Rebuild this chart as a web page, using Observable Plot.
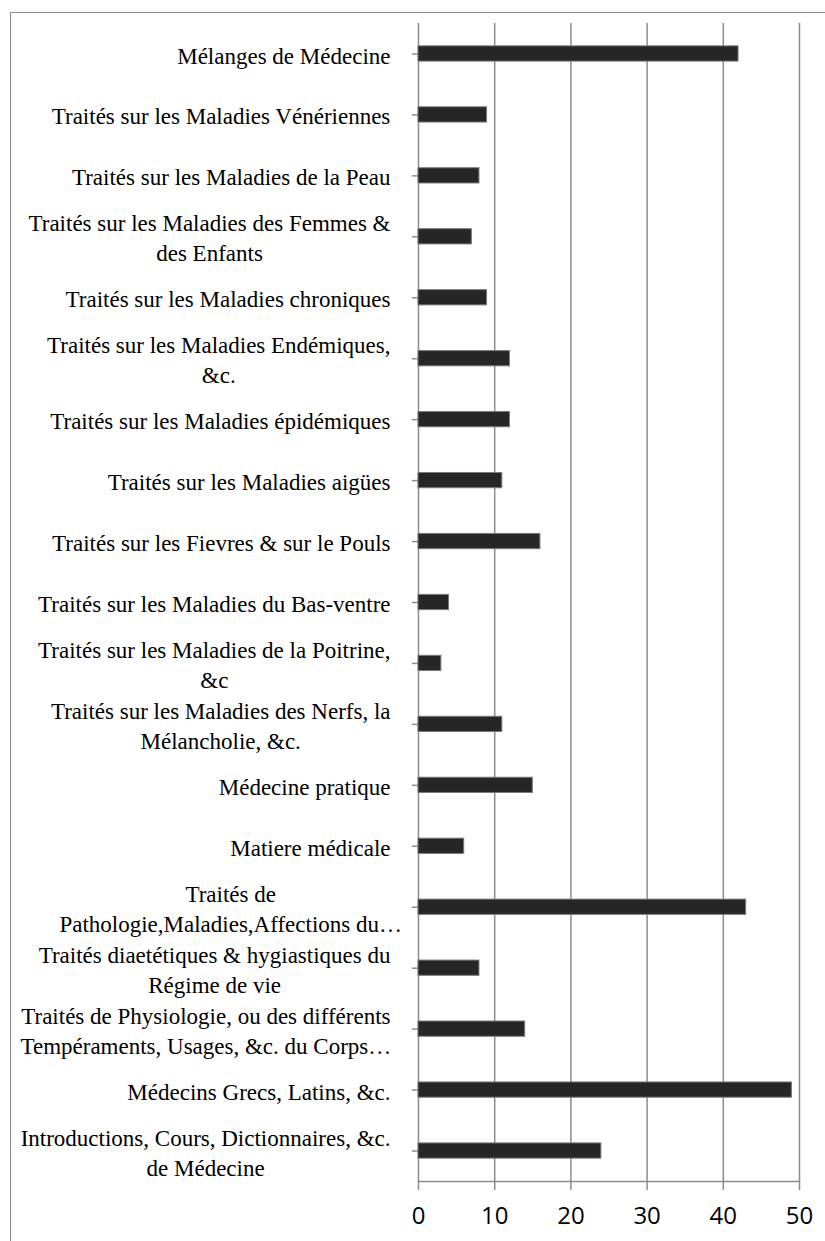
<!DOCTYPE html>
<html><head><meta charset="utf-8">
<script src="https://cdn.jsdelivr.net/npm/d3@7"></script>
<script src="https://cdn.jsdelivr.net/npm/@observablehq/plot@0.6"></script>
<style>
html,body{margin:0;padding:0;background:#fff;overflow:hidden}
#wrap{position:relative;width:825px;height:1241px;overflow:hidden;background:#fff}
#frame{position:absolute;left:10px;top:12px;width:900px;height:1300px;border:1.5px solid #8c8c8c;box-sizing:border-box}
#chart{position:absolute;left:0;top:0}
</style></head><body>
<div id="wrap"><div id="frame"></div><div id="chart"></div></div>
<script>
// Category labels, top to bottom, as shown (line breaks as in the picture)
const labels = [
  "Mélanges de Médecine",
  "Traités sur les Maladies Vénériennes",
  "Traités sur les Maladies de la Peau",
  "Traités sur les Maladies des Femmes &\ndes Enfants",
  "Traités sur les Maladies chroniques",
  "Traités sur les Maladies Endémiques,\n&c.",
  "Traités sur les Maladies épidémiques",
  "Traités sur les Maladies aigües",
  "Traités sur les Fievres & sur le Pouls",
  "Traités sur les Maladies du Bas-ventre",
  "Traités sur les Maladies de la Poitrine,\n&c",
  "Traités sur les Maladies des Nerfs, la\nMélancholie, &c.",
  "Médecine pratique",
  "Matiere médicale",
  "Traités de\nPathologie,Maladies,Affections du…",
  "Traités diaetétiques & hygiastiques du\nRégime de vie",
  "Traités de Physiologie, ou des différents\nTempéraments, Usages, &c. du Corps…",
  "Médecins Grecs, Latins, &c.",
  "Introductions, Cours, Dictionnaires, &c.\nde Médecine"
];
const counts = [42, 9, 8, 7, 9, 12, 12, 11, 16, 4, 3, 11, 15, 6, 43, 8, 14, 49, 24];
const xTicks = [0, 10, 20, 30, 40, 50];

const data = labels.map((label, i) => ({label, count: counts[i]}));

const serif = "'Liberation Serif', 'Times New Roman', serif";
const serifSize = 23;
const labelGap = 28;
const grey = "#8c8c8c";

function draw() {
  const ctx = document.createElement("canvas").getContext("2d");
  ctx.font = `${serifSize}px ${serif}`;
  const blockWidth = (s) => Math.max(...s.split("\n").map(l => ctx.measureText(l.replace(/…$/, "")).width));

  const labelMarks = labels.map(l => Plot.text([l], {
    y: d => d,
    text: d => d,
    frameAnchor: "left",
    textAnchor: "middle",
    dx: -(labelGap + blockWidth(l) / 2),
    lineHeight: 1.3,
    fontFamily: serif,
    fontSize: serifSize,
    fill: "#000"
  }));

  const chart = Plot.plot({
    width: 825,
    height: 1241,
    marginLeft: 418,
    marginRight: 26,
    marginTop: 23,
    marginBottom: 60,
    style: {background: "transparent"},
    x: {domain: [0, 50], label: null},
    y: {domain: labels, paddingInner: 0.75, paddingOuter: 0.375, round: false, label: null},
    marks: [
      Plot.ruleX(xTicks, {stroke: grey, strokeWidth: 1.5}),
      Plot.frame({anchor: "bottom", stroke: grey, strokeWidth: 1.5}),
      Plot.axisX(xTicks, {tickSize: 9, tickPadding: 16, stroke: grey, strokeWidth: 1.5,
        fontSize: 24, fontFamily: "'Open Sans', sans-serif", fill: "#000", label: null}),
      Plot.axisY({tickSize: 6, tickFormat: () => "", stroke: grey, strokeWidth: 1.5, label: null}),
      Plot.axisY({tickSize: -5, tickFormat: () => "", stroke: grey, strokeWidth: 1.5, label: null}),
      Plot.barX(data, {y: "label", x: "count", fill: "#262626", stroke: "#7a7a7a", strokeWidth: 1}),
      ...labelMarks
    ]
  });
  document.getElementById("chart").appendChild(chart);
}

if (document.fonts && document.fonts.load) {
  Promise.all([
    document.fonts.load(`${serifSize}px 'Liberation Serif'`),
    document.fonts.load(`24px 'Open Sans'`)
  ]).then(draw, draw);
} else draw();
</script>
</body></html>
